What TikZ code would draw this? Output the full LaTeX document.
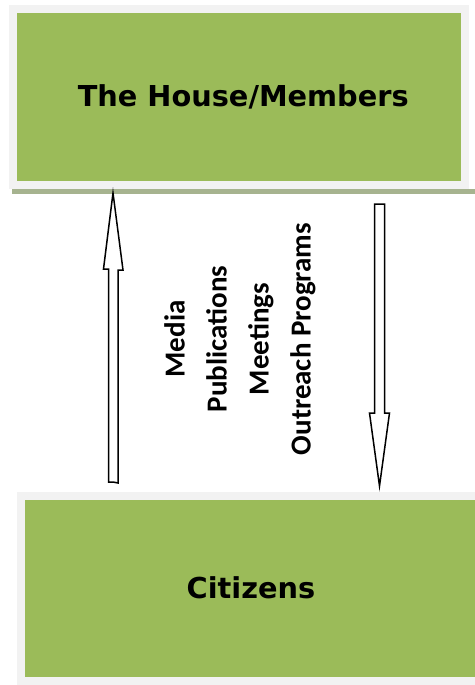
\documentclass[tikz,border=0pt]{standalone}
\usepackage{fontspec}
\setmainfont{DejaVu Sans}
\newfontfamily\labelfont{Carlito Bold}
\definecolor{boxgreen}{HTML}{9BBB59}
\definecolor{framegray}{HTML}{F2F2F2}
\definecolor{shadowgreen}{HTML}{A6B38F}

\begin{document}
\begin{tikzpicture}[x=0.5pt, y=-0.5pt,
  panel/.style={draw=framegray, line width=4pt, fill=boxgreen, rectangle, inner sep=0pt, font={\fontsize{14.4pt}{17pt}\selectfont\bfseries}},
  flow/.style={draw, line width=0.75pt, fill=white, line join=miter}]
\useasboundingbox (0,0) rectangle (475,685);

% the two boxes
\node[panel, minimum width=226.25pt, minimum height=88pt] (house) at (238.75,97) {\hspace*{4.5pt}The House/Members};
\fill[shadowgreen] (12,189) rectangle (475,194);
\node[panel, minimum width=230pt, minimum height=92.25pt] (citizens) at (251,588.25) {Citizens};

% arrows
\coordinate (uptail) at (113,482);
\coordinate (uptip) at (113,193);
\coordinate (downtail) at (379.5,204);
\coordinate (downtip) at (379.5,486);
\draw[flow] (uptail) -- ++(-4.5,0) -- ++(0,-213) -- ++(-5,0) -- (uptip) -- ++(10,77) -- ++(-5,0) -- ++(0,213) -- cycle;
\draw[flow] (downtail) -- ++(-5,0) -- ++(0,209) -- ++(-5,0) -- (downtip) -- ++(10,-73) -- ++(-5,0) -- ++(0,-209) -- cycle;

% channels
\node[rotate=90, align=center, font={\labelfont\fontsize{14.5pt}{21pt}\selectfont}] (channels) at (240,339) {Media\\Publications\\Meetings\\Outreach Programs};

\end{tikzpicture}
\end{document}
